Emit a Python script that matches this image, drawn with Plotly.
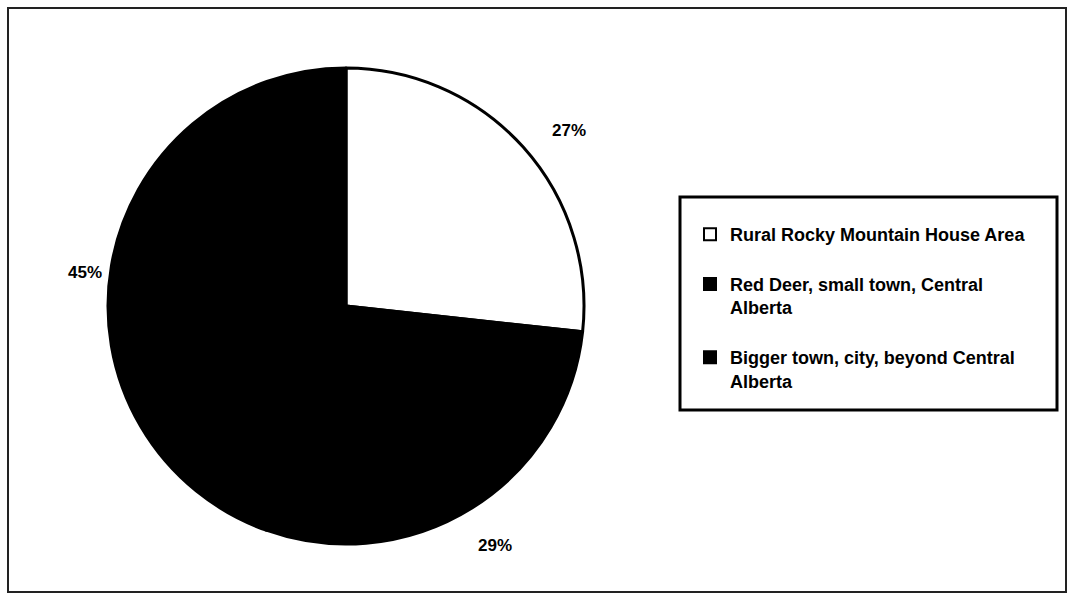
import math
import textwrap
import plotly.graph_objects as go

# ---- data ----
categories = [
    "Rural Rocky Mountain House Area",
    "Red Deer, small town, Central Alberta",
    "Bigger town, city, beyond Central Alberta",
]
percent_values = [27, 29, 45]
slice_colors = ["#ffffff", "#000000", "#000000"]

W, H = 1074, 600
# pie geometry (pixels)
cx_px, cy_px = 346, 306
R_px = 238

FONT = "Liberation Sans, Arial, Helvetica, sans-serif"

legend_labels = ["<br>".join(textwrap.wrap(c, 33)) + "<br> " for c in categories]

fig = go.Figure()
fig.add_trace(go.Pie(
    labels=legend_labels,
    values=percent_values,
    sort=False,
    direction="clockwise",
    rotation=0,
    textinfo="none",
    hoverinfo="label+value",
    marker=dict(colors=slice_colors, line=dict(color="#000000", width=3)),
    domain=dict(
        x=[(cx_px - R_px) / W, (cx_px + R_px) / W],
        y=[(H - cy_px - R_px) / H, (H - cy_px + R_px) / H],
    ),
))

# percentage labels placed outside each slice at its mid-angle
total = sum(percent_values)
acc = 0
annotations = []
label_r = [1.18, 1.19, 1.11]
label_shift = [(14, -12), (-1, 0), (-1, -11)]
for v, k, (sx, sy) in zip(percent_values, label_r, label_shift):
    mid = (acc + v / 2) / total * 2 * math.pi
    acc += v
    x = (cx_px + k * R_px * math.sin(mid)) / W
    y = (H - cy_px + k * R_px * math.cos(mid)) / H
    annotations.append(dict(
        x=x, y=y, xref="paper", yref="paper", text=f"<b>{v}%</b>",
        showarrow=False, xshift=sx, yshift=sy,
        font=dict(size=17, color="#000000", family=FONT),
        xanchor="center", yanchor="middle",
    ))

shapes = [
    # outer frame
    dict(type="rect", xref="paper", yref="paper",
         x0=8 / W, x1=1066 / W, y0=1 - 592 / H, y1=1 - 8 / H,
         line=dict(color="#222222", width=2)),
    # legend box
    dict(type="rect", xref="paper", yref="paper",
         x0=680 / W, x1=1057 / W, y0=1 - 410 / H, y1=1 - 197 / H,
         line=dict(color="#000000", width=3)),
]

fig.update_layout(
    width=W, height=H,
    margin=dict(l=0, r=0, t=0, b=0),
    paper_bgcolor="#ffffff",
    plot_bgcolor="#ffffff",
    font=dict(family=FONT, color="#000000"),
    annotations=annotations,
    shapes=shapes,
    showlegend=True,
    legend=dict(
        x=690 / W, y=1 - 216 / H, xanchor="left", yanchor="top",
        bgcolor="rgba(0,0,0,0)", borderwidth=0,
        font=dict(size=18, color="#000000", family=FONT, weight="bold"),
        valign="top",
        itemsizing="constant",
    ),
)

fig.write_html("out.html")
